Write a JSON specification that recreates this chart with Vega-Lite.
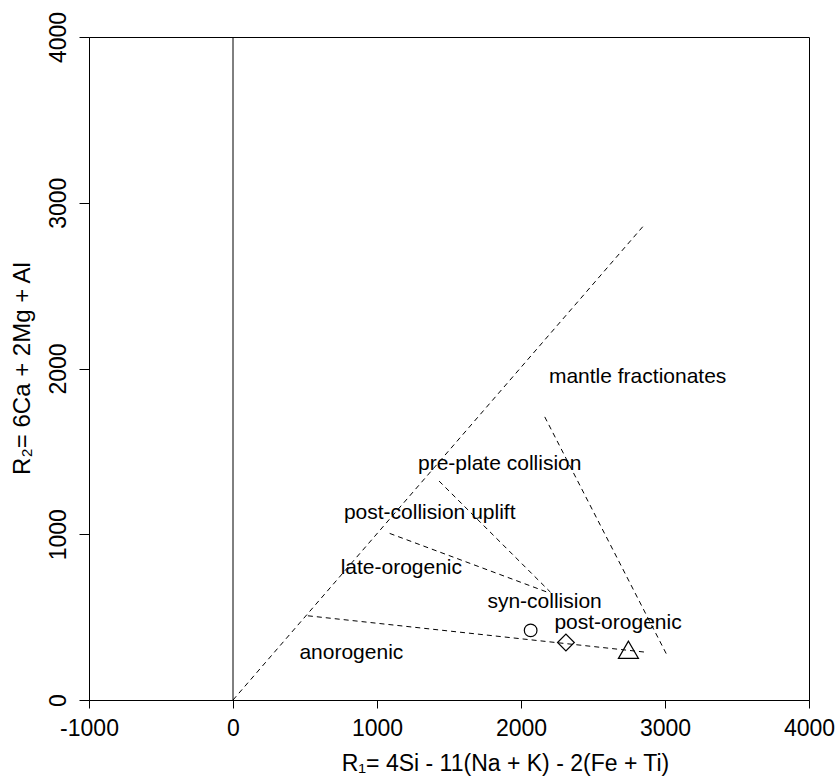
{
  "$schema": "https://vega.github.io/schema/vega-lite/v6.json",
  "autosize": {"type": "none"},
  "padding": {"left": 89, "top": 37, "right": 30, "bottom": 78},
  "width": 720,
  "height": 663,
  "background": "white",
  "config": {
    "view": {"stroke": "black", "strokeWidth": 1},
    "font": "Liberation Sans",
    "axis": {
      "grid": false,
      "domainColor": "black",
      "tickColor": "black",
      "labelColor": "black",
      "titleColor": "black",
      "labelFont": "Liberation Sans",
      "titleFont": "Liberation Sans",
      "titleFontWeight": "normal",
      "labelFontSize": 23,
      "titleFontSize": 23
    }
  },
  "datasets": {
    "lines": [
      {"seg": "diagonal", "x": 0, "y": 0},
      {"seg": "diagonal", "x": 2860, "y": 2870},
      {"seg": "anorogenic", "x": 520, "y": 508},
      {"seg": "anorogenic", "x": 2870, "y": 288},
      {"seg": "late", "x": 1088, "y": 1005},
      {"seg": "late", "x": 2200, "y": 645},
      {"seg": "preplate", "x": 1431, "y": 1321},
      {"seg": "preplate", "x": 2205, "y": 650},
      {"seg": "mantle", "x": 2165, "y": 1708},
      {"seg": "mantle", "x": 3010, "y": 277}
    ],
    "points": [
      {"sample": "S1", "x": 2067, "y": 420},
      {"sample": "S2", "x": 2312, "y": 347},
      {"sample": "S3", "x": 2746, "y": 303}
    ],
    "labels": [
      {"label": "mantle fractionates", "x": 2810, "y": 1948},
      {"label": "pre-plate collision", "x": 1852, "y": 1421},
      {"label": "post-collision uplift", "x": 1366, "y": 1126},
      {"label": "late-orogenic", "x": 1169, "y": 794},
      {"label": "syn-collision", "x": 2164, "y": 589},
      {"label": "post-orogenic", "x": 2674, "y": 466},
      {"label": "anorogenic", "x": 822, "y": 282}
    ],
    "zero": [{"x": 0}]
  },
  "layer": [
    {
      "data": {"name": "zero"},
      "mark": {"type": "rule", "color": "black", "strokeWidth": 1},
      "encoding": {
        "x": {
          "field": "x", "type": "quantitative",
          "scale": {"domain": [-1000, 4000], "nice": false, "zero": false},
          "axis": {
            "values": [-1000, 0, 1000, 2000, 3000, 4000],
            "labelExpr": "'' + datum.value",
            "title": "R₁= 4Si - 11(Na + K) - 2(Fe + Ti)",
            "tickSize": 8,
            "labelPadding": 20,
            "labelBaseline": "middle",
            "labelFlush": false,
            "labelOverlap": false,
            "titleX": 416,
            "titleY": 63,
            "titleAlign": "center",
            "titleBaseline": "middle"
          }
        }
      }
    },
    {
      "data": {"name": "lines"},
      "mark": {"type": "line", "color": "black", "strokeWidth": 1, "strokeDash": [5, 4]},
      "encoding": {
        "x": {"field": "x", "type": "quantitative"},
        "y": {
          "field": "y", "type": "quantitative",
          "scale": {"domain": [0, 4000], "nice": false},
          "axis": {
            "values": [0, 1000, 2000, 3000, 4000],
            "labelExpr": "'' + datum.value",
            "title": "R₂= 6Ca + 2Mg + Al",
            "titleFontSize": 24,
            "tickSize": 10,
            "labelAngle": -90,
            "labelAlign": "center",
            "labelBaseline": "middle",
            "labelPadding": 21,
            "labelFlush": false,
            "labelOverlap": false,
            "titleX": -67,
            "titleY": 331,
            "titleAngle": -90,
            "titleAlign": "center",
            "titleBaseline": "middle"
          }
        },
        "detail": {"field": "seg"}
      }
    },
    {
      "data": {"name": "points"},
      "mark": {"type": "point", "filled": false, "color": "black", "strokeWidth": 1.2, "opacity": 1},
      "encoding": {
        "x": {"field": "x", "type": "quantitative"},
        "y": {"field": "y", "type": "quantitative"},
        "shape": {"field": "sample", "type": "nominal", "scale": {"domain": ["S1", "S2", "S3"], "range": ["circle", "diamond", "triangle-up"]}, "legend": null},
        "size": {"field": "sample", "type": "nominal", "scale": {"domain": ["S1", "S2", "S3"], "range": [160, 400, 400]}, "legend": null}
      }
    },
    {
      "data": {"name": "labels"},
      "mark": {"type": "text", "fontSize": 21, "font": "Liberation Sans", "color": "black", "align": "center", "baseline": "middle"},
      "encoding": {
        "x": {"field": "x", "type": "quantitative"},
        "y": {"field": "y", "type": "quantitative"},
        "text": {"field": "label"}
      }
    }
  ]
}
